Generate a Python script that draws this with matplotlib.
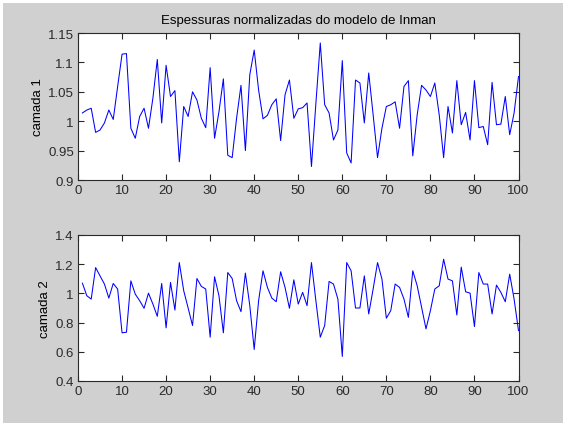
import matplotlib
matplotlib.use("Agg")
import matplotlib.pyplot as plt
from matplotlib.patches import Rectangle
import numpy as np

# espessuras normalizadas por camada (indice 1..100)
indice = np.arange(1, 101)

camada1 = [
    1.014, 1.019, 1.022, 0.981, 0.985, 0.997, 1.019, 1.003, 1.059, 1.114,
    1.115, 0.988, 0.971, 1.008, 1.022, 0.988, 1.039, 1.105, 0.997, 1.095,
    1.042, 1.052, 0.931, 1.025, 1.008, 1.050, 1.036, 1.005, 0.989, 1.091,
    0.971, 1.016, 1.072, 0.942, 0.938, 1.005, 1.061, 0.950, 1.079, 1.121,
    1.053, 1.004, 1.010, 1.028, 1.038, 0.967, 1.045, 1.070, 1.005, 1.021,
    1.023, 1.031, 0.923, 1.030, 1.133, 1.028, 1.014, 0.968, 0.985, 1.103,
    0.946, 0.929, 1.070, 1.065, 0.997, 1.082, 1.011, 0.938, 0.988, 1.025,
    1.028, 1.033, 0.988, 1.059, 1.069, 0.941, 1.011, 1.061, 1.053, 1.042,
    1.065, 1.011, 0.938, 1.025, 0.980, 1.069, 0.994, 1.015, 0.968, 1.069,
    0.989, 0.991, 0.960, 1.066, 0.994, 0.995, 1.042, 0.977, 1.014, 1.076,
]

camada2 = [
    1.070, 0.984, 0.961, 1.177, 1.120, 1.064, 0.968, 1.068, 1.030, 0.730,
    0.734, 1.086, 0.995, 0.950, 0.898, 1.002, 0.927, 0.843, 1.068, 0.764,
    1.075, 0.886, 1.211, 1.018, 0.900, 0.780, 1.102, 1.048, 1.030, 0.700,
    1.114, 0.984, 0.730, 1.143, 1.102, 0.950, 0.875, 1.139, 0.916, 0.616,
    0.950, 1.155, 1.041, 0.968, 0.943, 1.148, 1.041, 0.898, 1.093, 0.927,
    1.007, 0.916, 1.211, 0.950, 0.700, 0.780, 1.082, 1.064, 0.961, 0.568,
    1.211, 1.155, 0.900, 0.900, 1.120, 0.859, 1.030, 1.211, 1.098, 0.830,
    0.882, 1.064, 1.041, 0.961, 0.836, 1.155, 1.052, 0.905, 0.757, 0.882,
    1.030, 1.052, 1.234, 1.098, 1.086, 0.852, 1.180, 1.011, 1.002, 0.773,
    1.143, 1.064, 1.064, 0.859, 1.057, 1.007, 0.943, 1.132, 0.961, 0.745,
]

xticks = list(range(0, 101, 10))
yticks1 = [0.9, 0.95, 1.0, 1.05, 1.1, 1.15]
ylabels1 = ["0.9", "0.95", "1", "1.05", "1.1", "1.15"]
yticks2 = [0.4, 0.6, 0.8, 1.0, 1.2, 1.4]
ylabels2 = ["0.4", "0.6", "0.8", "1", "1.2", "1.4"]

plt.rcParams["font.family"] = ["Liberation Sans", "DejaVu Sans"]
plt.rcParams["font.size"] = 9.5

W, H = 567, 427
fig = plt.figure(figsize=(W / 100, H / 100), dpi=100)
fig.set_facecolor("white")
# fundo cinza com moldura clara
fig.patches.append(Rectangle((3 / W, 3 / H), 1 - 7 / W, 1 - 7 / H,
                             transform=fig.transFigure, facecolor="#d0d0d0",
                             edgecolor="none", zorder=-10))


def eixo(rect, y, yticks, ylabels, ylabel):
    ax = fig.add_axes(rect)
    ax.plot(indice, y, color="#0000ff", linewidth=0.75)
    ax.set_xlim(0, 100)
    ax.set_ylim(yticks[0], yticks[-1])
    ax.set_xticks(xticks)
    ax.set_yticks(yticks)
    ax.set_yticklabels(ylabels)
    ax.tick_params(direction="in", length=4, width=0.8, top=True, right=True,
                   labelsize=9.5, colors="#2a2a2a", pad=3)
    for s in ax.spines.values():
        s.set_linewidth(0.8)
        s.set_color("#2a2a2a")
    ax.set_ylabel(ylabel, fontsize=9.5, labelpad=3)
    ax.set_facecolor("white")
    return ax


ax1 = eixo([78 / W, 1 - 181 / H, 440.5 / W, 147 / H], camada1,
           yticks1, ylabels1, "camada 1")
ax1.set_title("Espessuras normalizadas do modelo de Inman", fontsize=9.5, pad=7)

ax2 = eixo([78 / W, 1 - 382 / H, 440.5 / W, 146 / H], camada2,
           yticks2, ylabels2, "camada 2")

fig.savefig("out.png", dpi=100)
